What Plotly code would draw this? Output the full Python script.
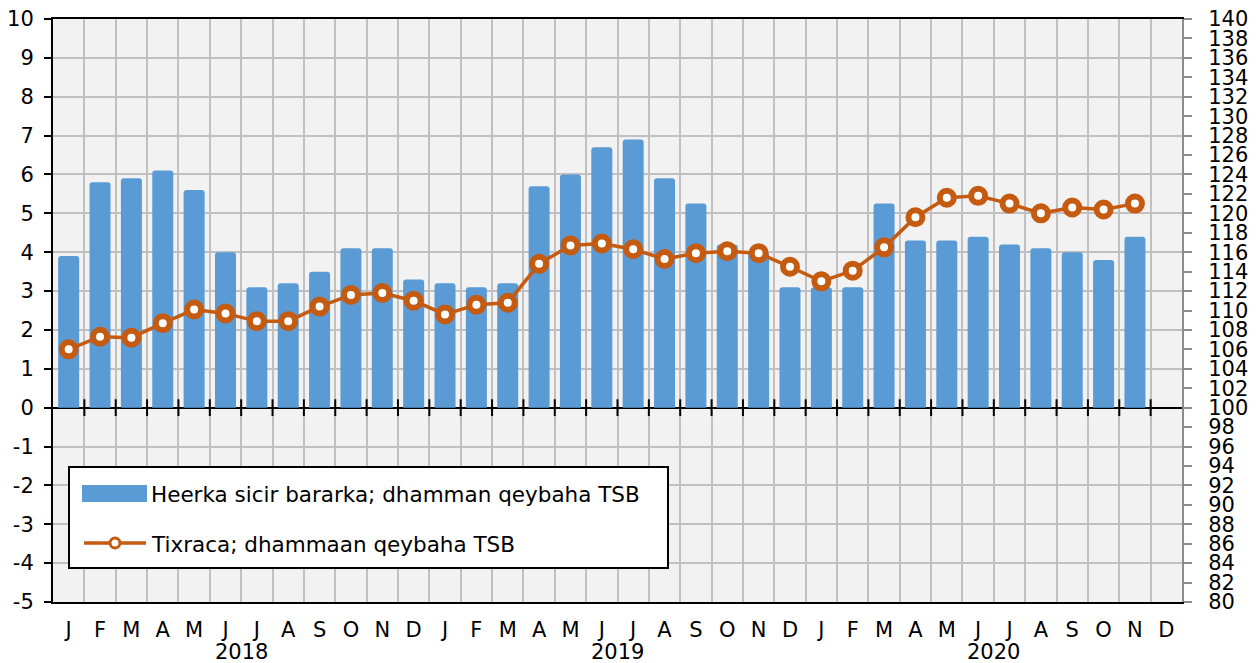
import plotly.graph_objects as go

# ---- data ----
months = ["J", "F", "M", "A", "M", "J", "J", "A", "S", "O", "N", "D"] * 3
years = ["2018", "2019", "2020"]
bar_values = [
    3.9, 5.8, 5.9, 6.1, 5.6, 4.0, 3.1, 3.2, 3.5, 4.1, 4.1, 3.3,
    3.2, 3.1, 3.2, 5.7, 6.0, 6.7, 6.9, 5.9, 5.25, 4.2, 4.0, 3.1,
    3.1, 3.1, 5.25, 4.3, 4.3, 4.4, 4.2, 4.1, 4.0, 3.8, 4.4,
]
line_values = [
    106.0, 107.3, 107.2, 108.7, 110.1, 109.7, 108.9, 108.9, 110.4, 111.6, 111.8, 111.0,
    109.6, 110.6, 110.8, 114.8, 116.7, 116.9, 116.3, 115.3, 115.9, 116.1, 115.9, 114.5,
    113.0, 114.1, 116.5, 119.6, 121.6, 121.8, 121.0, 120.0, 120.6, 120.4, 121.0,
]
bar_name = "Heerka sicir bararka; dhamman qeybaha TSB"
line_name = "Tixraca; dhammaan qeybaha TSB"
left_ticks = list(range(-5, 11))
right_ticks = list(range(80, 141, 2))

# ---- style ----
BLUE = "#5B9BD5"
ORANGE = "#C55A11"
GRID = "#C0C0C0"
FONT = "DejaVu Sans, Liberation Sans, Arial, sans-serif"
OFF = 8  # default page body margin
W, H = 1258 - OFF, 663 - OFF
# plot area in page pixels: left 53, right 1182, top 19, bottom 602
ML, MT = 53 - OFF, 19 - OFF
MR = W - (1182 - OFF)
MB = H - (602 - OFF)
PW, PH = W - ML - MR, H - MT - MB

n_cat = len(months)
xs = list(range(len(bar_values)))
boundaries = [i + 0.5 for i in range(n_cat - 1)]

fig = go.Figure()
fig.add_trace(go.Bar(
    x=xs, y=bar_values, name=bar_name, marker=dict(color=BLUE, line=dict(width=0)),
    width=0.67, showlegend=False, hoverinfo="y",
))
# tick marks across the zero line at category boundaries
fig.add_trace(go.Scatter(
    x=boundaries, y=[0] * len(boundaries), mode="markers",
    marker=dict(symbol="line-ns", size=12, line=dict(color="black", width=2)),
    showlegend=False, hoverinfo="skip",
))
fig.add_trace(go.Scatter(
    x=xs, y=line_values, name=line_name, yaxis="y2", mode="lines+markers",
    line=dict(color=ORANGE, width=3.5),
    marker=dict(symbol="circle", size=14, color="white", line=dict(color=ORANGE, width=6)),
    showlegend=False, hoverinfo="y",
))

fig.update_layout(
    width=W, height=H,
    margin=dict(l=ML, r=MR, t=MT, b=MB, pad=0),
    paper_bgcolor="white", plot_bgcolor="#F2F2F2",
    font=dict(family=FONT, size=21, color="black"),
    barcornerradius=3,
    xaxis=dict(
        range=[-0.5, n_cat - 0.5], tickmode="array", tickvals=list(range(n_cat)),
        ticktext=months, ticks="", showgrid=False, zeroline=False,
        showline=True, linecolor="black", linewidth=2, mirror=True,
        tickfont=dict(size=21), automargin=False, ticklabelstandoff=8,
        ticklabeloverflow="allow",
        minor=dict(tickmode="array", tickvals=boundaries, showgrid=True,
                   gridcolor=GRID, gridwidth=2, ticks=""),
    ),
    yaxis=dict(
        range=[-5, 10], tickmode="array", tickvals=left_ticks,
        ticktext=[str(v) for v in left_ticks],
        showgrid=True, gridcolor=GRID, gridwidth=2,
        zeroline=True, zerolinecolor="black", zerolinewidth=2,
        showline=True, linecolor="black", linewidth=2,
        ticks="outside", ticklen=7, tickcolor="black", tickwidth=2,
        tickfont=dict(size=21), automargin=False, ticklabelstandoff=6,
        ticklabeloverflow="allow",
    ),
    yaxis2=dict(
        range=[80, 140], overlaying="y", side="right", tickmode="array",
        tickvals=right_ticks, showgrid=False, zeroline=False,
        showline=True, linecolor="#8C8C8C", linewidth=2,
        ticks="outside", ticklen=8, tickcolor="#8C8C8C", tickwidth=2,
        tickfont=dict(size=21), automargin=False, ticklabelstandoff=12,
        ticklabeloverflow="allow",
    ),
)

# year labels centred under their month groups
for i, yr in enumerate(years):
    fig.add_annotation(x=i * 12 + 5.5, y=0, xref="x", yref="paper", yshift=-50,
                       text=yr, showarrow=False, font=dict(size=21),
                       yanchor="middle", xanchor="center")

# custom legend box (positions given in page pixels)
def px_x(p):
    return (p - OFF - ML) / PW

def px_y(p):
    return (H - MB - (p - OFF)) / PH

fig.add_shape(type="rect", xref="paper", yref="paper",
              x0=px_x(69), x1=px_x(668), y0=px_y(568), y1=px_y(467),
              line=dict(color="black", width=2), fillcolor="white", layer="above")
fig.add_shape(type="rect", xref="paper", yref="paper",
              x0=px_x(82), x1=px_x(147), y0=px_y(502), y1=px_y(485),
              line=dict(width=0), fillcolor=BLUE, layer="above")
fig.add_shape(type="line", xref="paper", yref="paper",
              x0=px_x(84), x1=px_x(146), y0=px_y(543), y1=px_y(543),
              line=dict(color=ORANGE, width=3.5), layer="above")
fig.add_shape(type="circle", xref="paper", yref="paper",
              x0=px_x(110), x1=px_x(120), y0=px_y(548), y1=px_y(538),
              line=dict(color=ORANGE, width=3), fillcolor="white", layer="above")
fig.add_annotation(x=px_x(149), y=px_y(494), xref="paper", yref="paper",
                   text=bar_name, showarrow=False, xanchor="left", yanchor="middle",
                   font=dict(size=21.5))
fig.add_annotation(x=px_x(149), y=px_y(544), xref="paper", yref="paper",
                   text=line_name, showarrow=False, xanchor="left", yanchor="middle",
                   font=dict(size=21.5))

fig.write_html("out.html")
